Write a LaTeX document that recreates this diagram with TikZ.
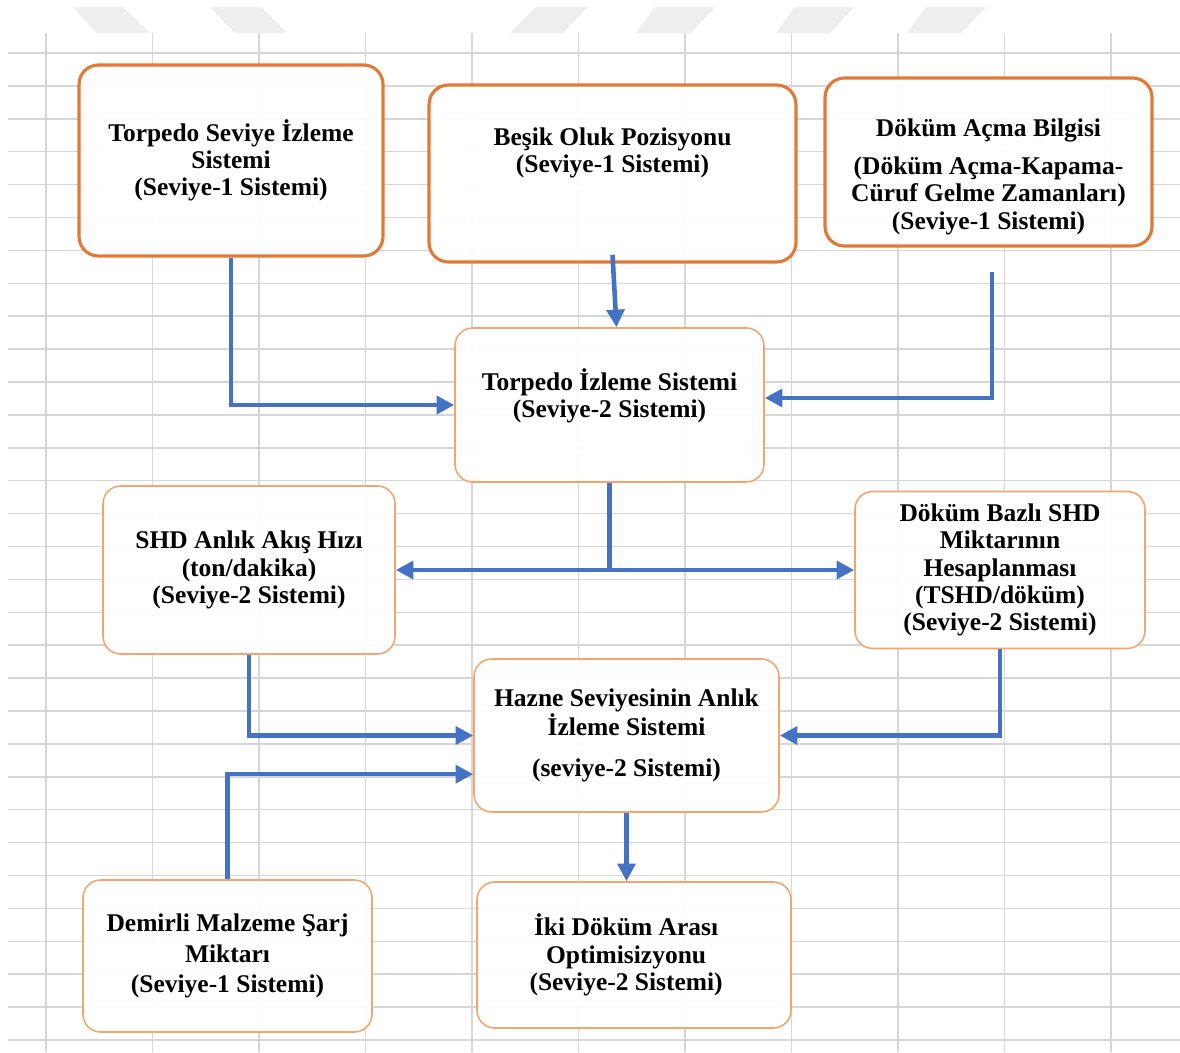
\documentclass[tikz,border=0pt]{standalone}
\usepackage{fontspec}
\setmainfont{Liberation Serif}
\usepackage{tikz}
\usetikzlibrary{arrows.meta, positioning, calc}
\usepackage{xcolor}
\definecolor{boxdark}{HTML}{E07A36}
\definecolor{boxlight}{HTML}{F4A56E}
\definecolor{flowblue}{HTML}{4472C4}
\definecolor{gridgray}{HTML}{D6D6D6}

\begin{document}
\begin{tikzpicture}[x=0.02cm, y=-0.02cm,
    gridline/.style={gridgray, line width=0.85pt},
    watermark/.style={gray!13},
    boxbase/.style={rectangle, rounded corners=10pt, fill=white, fill opacity=0.93, text opacity=1,
      align=center, font=\fontsize{14.5}{15.5}\selectfont\bfseries, inner sep=4pt},
    topbox/.style={boxbase, draw=boxdark, line width=1.8pt, rounded corners=11pt},
    subbox/.style={boxbase, draw=boxlight, line width=0.9pt},
    flow/.style={flowblue, line width=2.6pt, -{Triangle[length=10pt,width=10pt]}},
  ]
        \useasboundingbox (0,0) rectangle (1180,1052);

        % sheet background
        \foreach \a/\b/\c/\d in {73/123/150/96, 210/261/287/235, 536/588/563/510,
                                 655/715/691/636, 795/854/830/776, 926/986/961/907}
          \fill[watermark] (\a,7) -- (\b,7) -- (\c,33) -- (\d,33) -- cycle;
        \foreach \k in {0,...,10}
          \draw[gridline] ({46+106.5*\k},33) -- ({46+106.5*\k},1052);
        \foreach \k in {0,...,30}
          \draw[gridline] (8,{53+32.9*\k}) -- (1180,{53+32.9*\k});

        % level-1 sources
        \node[topbox, minimum width=6.08cm, minimum height=3.82cm] (tsis) at (231,160.5)
          {Torpedo Seviye İzleme\\Sistemi\\(Seviye-1 Sistemi)};
        \node[topbox, minimum width=7.34cm, minimum height=3.54cm] (besik) at (612.5,173.5)
          {Beşik Oluk Pozisyonu\\(Seviye-1 Sistemi)\rule[-27pt]{0pt}{0pt}};
        \node[topbox, minimum width=6.54cm, minimum height=3.36cm] (dab) at (988.5,162)
          {\rule{0pt}{27pt}Döküm Açma Bilgisi\\[6pt](Döküm Açma-Kapama-\\Cüruf Gelme Zamanları)\\(Seviye-1 Sistemi)};

        % level-2 systems
        \node[subbox, minimum width=6.18cm, minimum height=3.08cm] (tis) at (609.5,405)
          {Torpedo İzleme Sistemi\\(Seviye-2 Sistemi)\rule[-14pt]{0pt}{0pt}};
        \node[subbox, minimum width=5.84cm, minimum height=3.36cm] (shd) at (249,570)
          {SHD Anlık Akış Hızı\\(ton/dakika)\\(Seviye-2 Sistemi)};
        \node[subbox, minimum width=5.80cm, minimum height=3.14cm] (dbs) at (1000,570)
          {Döküm Bazlı SHD\\Miktarının\\Hesaplanması\\(TSHD/döküm)\\(Seviye-2 Sistemi)};
        \node[subbox, minimum width=6.10cm, minimum height=3.06cm] (hazne) at (626.5,735.5)
          {Hazne Seviyesinin Anlık\\İzleme Sistemi\\[8pt](seviye-2 Sistemi)};
        \node[subbox, minimum width=5.78cm, minimum height=3.04cm] (demir) at (227.5,956)
          {Demirli Malzeme Şarj\\[2pt]Miktarı\\[2pt](Seviye-1 Sistemi)};
        \node[subbox, minimum width=6.28cm, minimum height=2.92cm] (iki) at (634,955)
          {İki Döküm Arası\kern9pt\\Optimisizyonu\kern9pt\\(Seviye-2 Sistemi)\kern9pt};

        % connectors
        \draw[flow] (tsis.south) |- (tis.west);
        \draw[flow] ([yshift=5pt]besik.south) -- ([xshift=4pt]tis.north);
        \draw[flow] ([xshift=2pt,yshift=-14pt]dab.south) |- ([yshift=4pt]tis.east);
        \draw[flow] (tis.south) |- (shd.east);
        \draw[flow] (tis.south) |- (dbs.west);
        \draw[flow] (shd.south) |- (hazne.west);
        \draw[flow] (dbs.south) |- (hazne.east);
        \draw[flow] (demir.north) |- ([yshift=-22pt]hazne.west);
        \draw[flow] (hazne.south) -- (hazne.south |- iki.north);

      \end{tikzpicture}
\end{document}
